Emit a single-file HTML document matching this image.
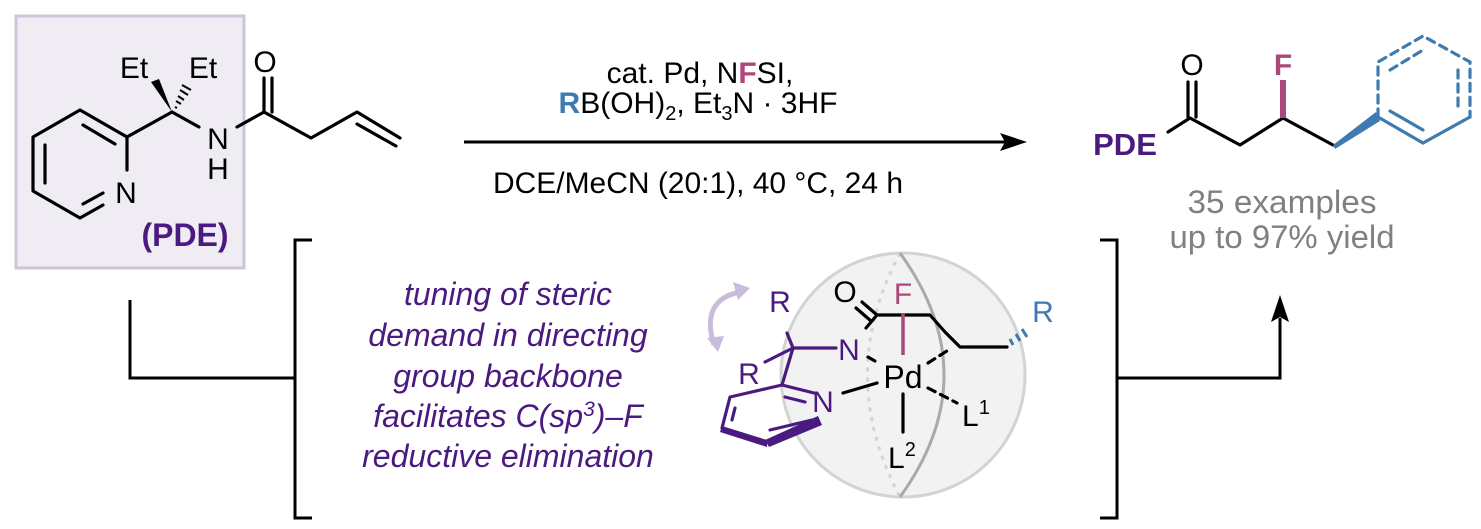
<!DOCTYPE html>
<html><head><meta charset="utf-8"><style>
html,body{margin:0;padding:0;background:#fff;}
svg{display:block;font-family:"Liberation Sans",Arial,sans-serif;}
</style></head><body>
<svg width="1481" height="529" viewBox="0 0 1481 529" xmlns="http://www.w3.org/2000/svg">
<rect x="16" y="16" width="228" height="252" fill="#efedf3" stroke="#cfc4de" stroke-width="3"/>
<g stroke="#000" stroke-width="3.2" fill="none" stroke-linecap="round" stroke-linejoin="round">
  <polyline points="127,137 80,110 33,137 33,191 80,218 103,205"/>
  <line x1="127" y1="137" x2="127" y2="170"/>
  <line x1="83" y1="125" x2="115" y2="144"/>
  <line x1="45" y1="145" x2="45" y2="183"/>
  <line x1="83" y1="204" x2="103" y2="193"/>
  <line x1="127" y1="137" x2="172" y2="112"/>
  <line x1="172" y1="112" x2="199" y2="127"/>
  <line x1="237" y1="127" x2="264" y2="112"/>
  <polyline points="264,112 311,138 357,112 400,138"/>
  <line x1="357" y1="124" x2="396" y2="146"/>
  <line x1="264" y1="112" x2="264" y2="78"/>
  <line x1="272" y1="112" x2="272" y2="78"/>
</g>
<polygon points="172,112 151,82 159,79" fill="#000"/>
<g stroke="#000" stroke-width="2">
  <line x1="175" y1="107" x2="177" y2="108"/><line x1="176" y1="101" x2="181" y2="104"/>
  <line x1="178" y1="96" x2="184" y2="100"/><line x1="180" y1="90" x2="188" y2="95"/>
  <line x1="182" y1="85" x2="191" y2="90"/>
</g>
<g font-size="30" fill="#000" text-anchor="middle">
  <text x="134" y="78">Et</text><text x="203" y="78">Et</text>
  <text x="265" y="72">O</text>
  <text x="218" y="149">N</text><text x="218" y="179">H</text>
  <text x="126" y="203">N</text>
</g>
<text x="185" y="246" font-size="32" font-weight="bold" fill="#4a1a80" text-anchor="middle">(PDE)</text>

<line x1="464" y1="142" x2="1010" y2="142" stroke="#000" stroke-width="3"/>
<polygon points="1027,142 1000,133 1005,142 1000,151" fill="#000"/>
<g font-size="30" fill="#000" text-anchor="middle">
  <text x="700" y="83">cat. Pd, N<tspan fill="#b0467a" font-weight="bold">F</tspan>SI,</text>
  <text x="698" y="113"><tspan fill="#3f7bb0" font-weight="bold">R</tspan>B(OH)<tspan font-size="20" dy="7">2</tspan><tspan dy="-7">, Et</tspan><tspan font-size="20" dy="7">3</tspan><tspan dy="-7">N · 3HF</tspan></text>
  <text x="698" y="193" textLength="410" lengthAdjust="spacingAndGlyphs">DCE/MeCN (20:1), 40 °C, 24 h</text>
</g>

<text x="1125" y="155" font-size="31" font-weight="bold" fill="#4a1a80" text-anchor="middle">PDE</text>
<g stroke="#000" stroke-width="3.2" fill="none" stroke-linecap="round" stroke-linejoin="round">
  <polyline points="1168,132 1190,118 1240,145 1283,118 1333,145"/>
  <line x1="1188" y1="82" x2="1188" y2="117"/>
  <line x1="1196" y1="82" x2="1196" y2="117"/>
</g>
<text x="1192" y="75" font-size="30" fill="#000" text-anchor="middle">O</text>
<line x1="1283" y1="80" x2="1283" y2="118" stroke="#a8497a" stroke-width="6"/>
<text x="1283" y="75" font-size="30" font-weight="bold" fill="#a8497a" text-anchor="middle">F</text>
<polygon points="1333,145 1376,112 1380,121 1335,149" fill="#3f7bb0"/>
<g stroke="#3f7bb0" stroke-width="3.2" fill="none" stroke-linecap="round">
  <polyline points="1378,117 1423,143 1470,117"/>
  <line x1="1390" y1="111" x2="1423" y2="130"/>
  <g stroke-dasharray="8,6">
    <polyline points="1378,117 1378,62 1423,36 1470,62 1470,117"/>
    <line x1="1390" y1="70" x2="1423" y2="50"/>
    <line x1="1458" y1="70" x2="1458" y2="110"/>
  </g>
</g>
<g font-size="32" fill="#808080" text-anchor="middle">
  <text x="1282" y="213" textLength="189" lengthAdjust="spacingAndGlyphs">35 examples</text>
  <text x="1282" y="248" textLength="225" lengthAdjust="spacingAndGlyphs">up to 97% yield</text>
</g>

<g stroke="#000" stroke-width="3" fill="none">
  <polyline points="312,240 295,240 295,518 312,518"/>
  <polyline points="1100,240 1117,240 1117,518 1100,518"/>
  <polyline points="130,300 130,378 295,378"/>
  <polyline points="1117,378 1280,378 1280,318"/>
</g>
<polygon points="1280,295 1271,322 1280,317 1289,322" fill="#000"/>

<g font-size="32" font-style="italic" fill="#4a1a80" text-anchor="middle">
  <text x="508" y="305">tuning of steric</text>
  <text x="508" y="346">demand in directing</text>
  <text x="508" y="387">group backbone</text>
  <text x="508" y="427">facilitates C(sp<tspan font-size="21" dy="-11">3</tspan><tspan dy="11">)–F</tspan></text>
  <text x="508" y="467">reductive elimination</text>
</g>

<circle cx="903" cy="375" r="122" fill="#f2f2f2" stroke="#d3d3d3" stroke-width="3"/>
<path d="M900,253 Q835,375 900,497" fill="none" stroke="#d3d3d3" stroke-width="3" stroke-dasharray="4,6"/>
<path d="M900,253 Q988,375 900,497" fill="none" stroke="#aaaaaa" stroke-width="3"/>

<path d="M740,292 Q700,300 714,345" fill="none" stroke="#c8bcdc" stroke-width="5"/>
<polygon points="750,288 733,282 738,300" fill="#c8bcdc"/>
<polygon points="718,352 707,338 724,336" fill="#c8bcdc"/>

<g stroke="#4a1a80" stroke-width="3.2" fill="none" stroke-linecap="round" stroke-linejoin="round">
  <line x1="793" y1="348" x2="836" y2="348"/>
  <line x1="793" y1="348" x2="787" y2="333"/>
  <line x1="793" y1="348" x2="765" y2="362"/>
  <line x1="793" y1="348" x2="782" y2="385"/>
  <polyline points="782,385 730,397 722,428"/>
  <line x1="782" y1="385" x2="814" y2="393"/>
  <line x1="785" y1="397" x2="805" y2="402"/>
  <line x1="735" y1="408" x2="732" y2="420"/>
  <line x1="770" y1="430" x2="812" y2="420"/>
</g>
<polygon points="722,426 767,440 767,447 720,432" fill="#4a1a80"/>
<polygon points="765,440 818,416 822,425 769,447" fill="#4a1a80"/>
<g font-size="30" fill="#4a1a80" text-anchor="middle">
  <text x="780" y="312">R</text>
  <text x="749" y="384">R</text>
  <text x="849" y="360">N</text>
  <text x="823" y="412">N</text>
</g>
<g stroke="#000" stroke-width="3.2" fill="none" stroke-linecap="round" stroke-linejoin="round">
  <line x1="877" y1="315" x2="866" y2="328"/>
  <line x1="877" y1="315" x2="862" y2="302"/>
  <line x1="871" y1="321" x2="856" y2="308"/>
  <polyline points="877,315 930,315 945,332 960,347 1007,347"/>
  <line x1="843" y1="393" x2="877" y2="383"/>
  <line x1="903" y1="394" x2="903" y2="432"/>
  <g stroke-dasharray="8,6">
    <line x1="868" y1="357" x2="880" y2="364"/>
    <line x1="928" y1="363" x2="950" y2="349"/>
    <line x1="928" y1="388" x2="957" y2="403"/>
  </g>
</g>
<line x1="903" y1="313" x2="903" y2="355" stroke="#a8497a" stroke-width="3.5"/>
<g stroke="#3f7bb0" stroke-width="3">
  <line x1="1010" y1="339" x2="1013" y2="345"/>
  <line x1="1016" y1="334" x2="1020" y2="341"/>
  <line x1="1022" y1="329" x2="1027" y2="337"/>
</g>
<g font-size="30" fill="#000">
  <text x="845" y="302" text-anchor="middle">O</text>
  <text x="903" y="388" text-anchor="middle" font-size="32">Pd</text>
  <text x="962" y="426">L<tspan font-size="20" dy="-12">1</tspan></text>
  <text x="888" y="468">L<tspan font-size="20" dy="-12">2</tspan></text>
</g>
<text x="903" y="304" font-size="30" fill="#a8497a" text-anchor="middle">F</text>
<text x="1043" y="322" font-size="30" fill="#3f7bb0" text-anchor="middle">R</text>
</svg>
</body></html>
